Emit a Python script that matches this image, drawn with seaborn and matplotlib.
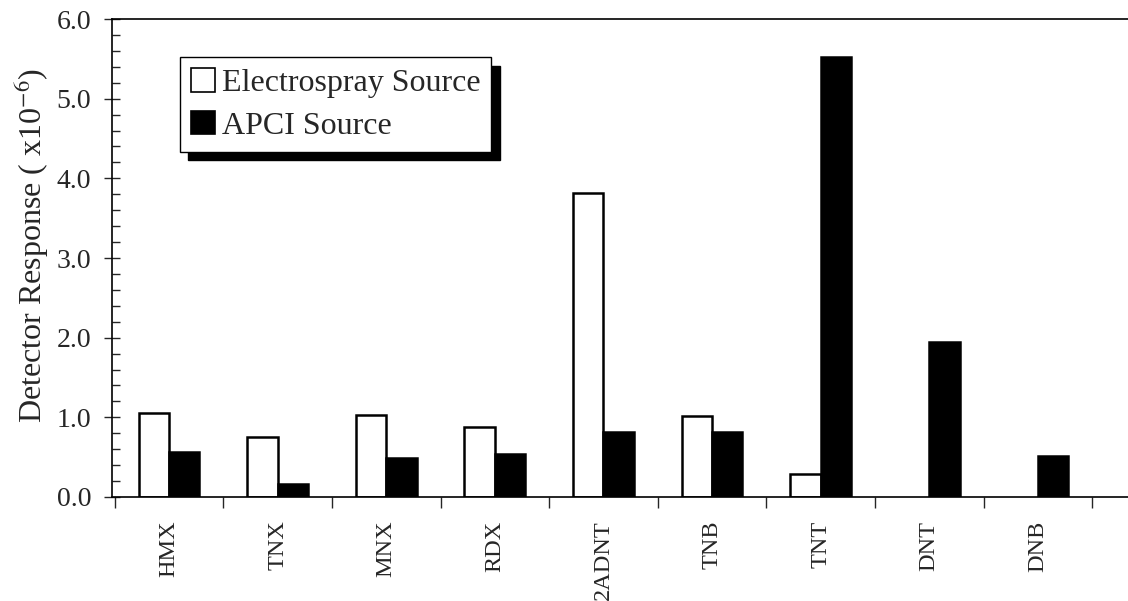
import matplotlib
matplotlib.use("Agg")
import matplotlib.pyplot as plt
import seaborn as sns
import pandas as pd
import numpy as np
from matplotlib.patches import Patch
from matplotlib.ticker import MultipleLocator, FixedLocator

compounds = ["HMX", "TNX", "MNX", "RDX", "2ADNT", "TNB", "TNT", "DNT", "DNB"]
electrospray = [1.06, 0.75, 1.03, 0.88, 3.82, 1.02, 0.29, 0.0, 0.0]
apci = [0.56, 0.16, 0.49, 0.54, 0.81, 0.82, 5.52, 1.95, 0.51]
series_names = ["Electrospray Source", "APCI Source"]

df = pd.DataFrame({
    "compound": compounds * 2,
    "value": electrospray + apci,
    "source": [series_names[0]] * len(compounds) + [series_names[1]] * len(compounds),
})

sns.set_style("ticks")
plt.rcParams["font.family"] = ["Liberation Serif", "DejaVu Serif"]
plt.rcParams["mathtext.fontset"] = "stix"

fig = plt.figure(figsize=(11.28, 6.01), dpi=100)
ax = fig.add_axes([112 / 1128, 1 - 497 / 601, 1 - 112 / 1128, (497 - 19) / 601])

sns.barplot(data=df, x="compound", y="value", hue="source", order=compounds,
            hue_order=series_names, palette=["white", "black"], width=0.56,
            edgecolor="black", linewidth=1.8, legend=False, ax=ax, errorbar=None)

for p in ax.patches:
    if p.get_height() == 0:
        p.set_linewidth(0)

ax.set_ylim(0, 6.0)
ax.set_xlim(-0.525, 8.83)
ax.yaxis.set_major_locator(MultipleLocator(1.0))
ax.yaxis.set_minor_locator(MultipleLocator(0.2))
ax.yaxis.set_major_formatter(matplotlib.ticker.FormatStrFormatter("%.1f"))
ax.tick_params(axis="y", which="major", direction="inout", length=12, width=1, labelsize=20, pad=9)
ax.tick_params(axis="y", which="minor", direction="in", length=6, width=1)

ax.set_xticks(range(len(compounds)))
ax.set_xticklabels(compounds, rotation=90, fontsize=17.5)
ax.tick_params(axis="x", which="major", length=0, pad=17)
ax.xaxis.set_minor_locator(FixedLocator(np.arange(-0.5, 9.0, 1.0)))
ax.tick_params(axis="x", which="minor", direction="out", length=8, width=1)

ax.set_xlabel("")
ax.set_ylabel("Detector Response ( x10$^{-6}$)", fontsize=23, labelpad=4)
ax.yaxis.label.set_y(0.527)

for s in ["left", "bottom", "top"]:
    ax.spines[s].set_linewidth(1.2)
    ax.spines[s].set_color("black")
ax.spines["right"].set_visible(False)

handles = [Patch(facecolor="white", edgecolor="black", linewidth=1.2),
           Patch(facecolor="black", edgecolor="black", linewidth=1.2)]
leg = ax.legend(handles, series_names, loc="upper left", bbox_to_anchor=(0.067, 0.92),
                fontsize=23, frameon=True, fancybox=False, handlelength=0.75,
                handleheight=0.75, handletextpad=0.2, borderpad=0.35, labelspacing=0.4,
                borderaxespad=0,
                shadow={"color": "black", "alpha": 1, "ox": 6, "oy": -6})
leg.get_frame().set_edgecolor("black")
leg.get_frame().set_linewidth(1)

fig.savefig("out.png", dpi=100)
